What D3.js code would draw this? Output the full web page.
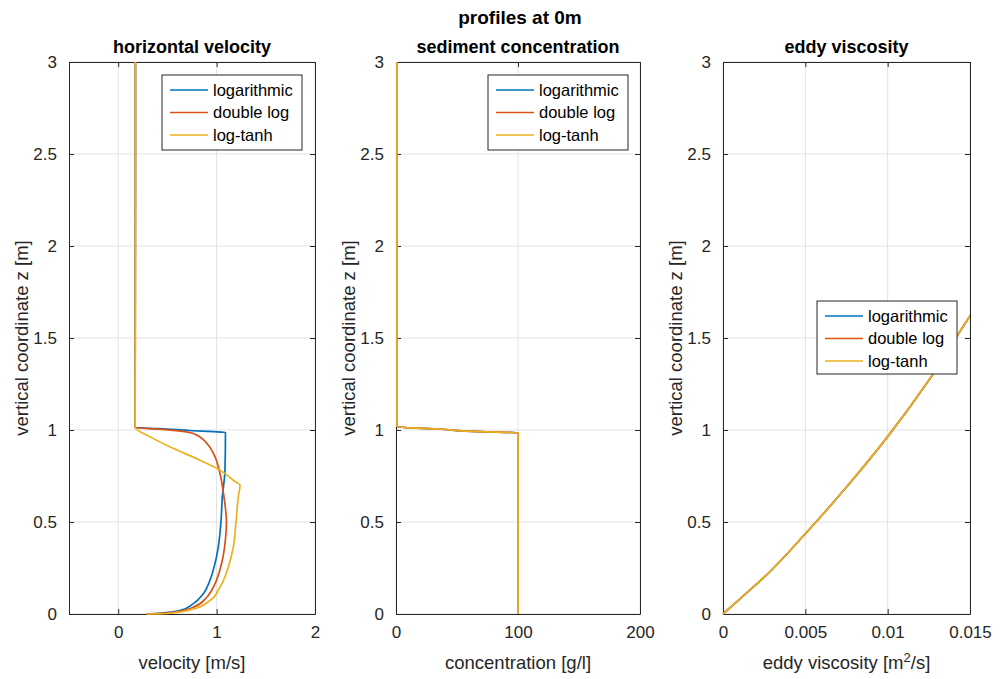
<!DOCTYPE html>
<html><head><meta charset="utf-8">
<script src="https://cdn.jsdelivr.net/npm/d3@7/dist/d3.min.js"></script>
<style>
body{margin:0;background:#fff;}
svg{display:block;font-family:"Liberation Sans",Arial,Helvetica,sans-serif;}
</style></head><body>
<svg id="chart" width="1000" height="679"></svg>
<script>
// ---------- data ----------
const seriesNames = ["logarithmic", "double log", "log-tanh"];
const seriesColors = ["#0072BD", "#D95319", "#EDB120"];

// horizontal velocity [m/s] vs z [m]
const velLogZ = [0, 0.004, 0.018, 0.055, 0.109, 0.18, 0.273, 0.364, 0.5, 0.636, 0.78, 0.987, 0.991, 0.996, 1.007, 1.013, 1.5, 2.0, 2.5, 3.0];
const velLogU = [0.286, 0.42, 0.626, 0.76, 0.864, 0.93, 0.983, 1.017, 1.044, 1.058, 1.085, 1.09, 0.966, 0.76, 0.42, 0.172, 0.173, 0.174, 0.175, 0.175];
const velDblZ = [0, 0.009, 0.036, 0.091, 0.164, 0.273, 0.418, 0.5, 0.636, 0.764, 0.855, 0.918, 0.95, 0.972, 0.987, 1.005, 1.013, 1.5, 2.0, 2.5, 3.0];
const velDblU = [0.30, 0.56, 0.76, 0.90, 0.983, 1.05, 1.092, 1.10, 1.075, 1.034, 0.983, 0.915, 0.86, 0.80, 0.72, 0.42, 0.172, 0.173, 0.174, 0.175, 0.175];
const velTanhZ = [0, 0.004, 0.027, 0.073, 0.145, 0.255, 0.364, 0.5, 0.636, 0.70, 0.727, 0.782, 0.836, 0.909, 0.964, 1.013, 1.5, 2.0, 2.5, 3.0];
const velTanhU = [0.286, 0.524, 0.762, 0.932, 1.034, 1.119, 1.17, 1.197, 1.221, 1.238, 1.17, 1.034, 0.83, 0.524, 0.32, 0.172, 0.173, 0.174, 0.175, 0.175];

// sediment concentration [g/l] vs z (same for all three)
const concZ = [0, 0.985, 0.991, 1.004, 1.018, 3.0];
const concC = [100, 100, 69, 36.5, 0.8, 0.8];

// eddy viscosity [m2/s] vs z (same for all three)
const eddyZ = [0, 0.08, 0.2, 0.436, 0.69, 0.964, 1.27, 1.62, 1.75];
const eddyNu = [0, 0.001, 0.0025, 0.005, 0.0075, 0.01, 0.0125, 0.015, 0.016];

// ticks
const zTicks = [0, 0.5, 1, 1.5, 2, 2.5, 3];
const zTickLabels = ["0", "0.5", "1", "1.5", "2", "2.5", "3"];
const velTicks = [0, 1, 2];
const concTicks = [0, 100, 200];
const eddyTicks = [0, 0.005, 0.01, 0.015];
const eddyTickLabels = ["0", "0.005", "0.01", "0.015"];

// ---------- layout ----------
const svg = d3.select("#chart");
const plotTop = 62, plotBottom = 614;
const frameColor = "#262626";
const gridColor = "#e3e3e3";
const tickFont = 17, labelFont = 18.5;

function zip(xs, zs){ return xs.map((x,i)=>({x:x, z:zs[i]})); }

const panels = [
  {left:69, right:315, domain:[-0.5,2], ticks:velTicks, tickLabels:velTicks.map(String),
   title:"horizontal velocity", xlabel:"velocity [m/s]",
   series:[zip(velLogU,velLogZ), zip(velDblU,velDblZ), zip(velTanhU,velTanhZ)],
   legend:{x:162, y:75, w:140, h:75}},
  {left:396, right:640, domain:[0,200], ticks:concTicks, tickLabels:concTicks.map(String),
   title:"sediment concentration", xlabel:"concentration [g/l]",
   series:[zip(concC,concZ), zip(concC,concZ), zip(concC,concZ)],
   legend:{x:488, y:75, w:140, h:75}},
  {left:723, right:970, domain:[0,0.015], ticks:eddyTicks, tickLabels:eddyTickLabels,
   title:"eddy viscosity", xlabel:null,
   series:[zip(eddyNu,eddyZ), zip(eddyNu,eddyZ), zip(eddyNu,eddyZ)],
   legend:{x:817, y:301, w:140, h:73}}
];

const y = d3.scaleLinear().domain([0,3]).range([plotBottom, plotTop]);

panels.forEach((p, pi) => {
  const x = d3.scaleLinear().domain(p.domain).range([p.left, p.right]);
  const g = svg.append("g");
  const clipId = "clip" + pi;
  svg.append("clipPath").attr("id", clipId).append("rect")
    .attr("x", p.left - 1).attr("y", plotTop - 1).attr("width", p.right - p.left + 1).attr("height", plotBottom - plotTop + 2);

  // grid
  g.append("g").selectAll("line").data(p.ticks).join("line")
    .attr("x1", d=>x(d)).attr("x2", d=>x(d)).attr("y1", plotTop).attr("y2", plotBottom)
    .attr("stroke", gridColor).attr("stroke-width", 1);
  g.append("g").selectAll("line").data(zTicks).join("line")
    .attr("x1", p.left).attr("x2", p.right).attr("y1", d=>y(d)).attr("y2", d=>y(d))
    .attr("stroke", gridColor).attr("stroke-width", 1);

  // axes (inside ticks, box on)
  const tickLen = 5;
  const axB = d3.axisBottom(x).tickValues(p.ticks).tickFormat((d,i)=>p.tickLabels[i]).tickSizeInner(-tickLen).tickSizeOuter(0).tickPadding(12);
  const axT = d3.axisTop(x).tickValues(p.ticks).tickFormat("").tickSizeInner(-tickLen).tickSizeOuter(0);
  const axL = d3.axisLeft(y).tickValues(zTicks).tickFormat((d,i)=>zTickLabels[i]).tickSizeInner(-tickLen).tickSizeOuter(0).tickPadding(12);
  const axR = d3.axisRight(y).tickValues(zTicks).tickFormat("").tickSizeInner(-tickLen).tickSizeOuter(0);

  function style(sel){
    sel.selectAll("path").attr("stroke", frameColor).attr("stroke-width", 1);
    sel.selectAll("line").attr("stroke", frameColor).attr("stroke-width", 1);
    sel.selectAll("text").attr("fill", frameColor).attr("font-size", tickFont)
      .attr("font-family", "Liberation Sans, Arial, sans-serif");
  }
  style(g.append("g").attr("transform", `translate(0,${plotBottom})`).call(axB));
  style(g.append("g").attr("transform", `translate(0,${plotTop})`).call(axT));
  style(g.append("g").attr("transform", `translate(${p.left},0)`).call(axL));
  style(g.append("g").attr("transform", `translate(${p.right},0)`).call(axR));

  // lines (drawn over frame, like the reference)
  const line = d3.line().curve(d3.curveMonotoneY).x(d=>x(d.x)).y(d=>y(d.z));
  const lg = g.append("g").attr("clip-path", `url(#${clipId})`);
  p.series.forEach((s, si) => {
    lg.append("path").datum(s).attr("d", line).attr("fill", "none")
      .attr("stroke", seriesColors[si]).attr("stroke-width", 1.7)
      .attr("stroke-linejoin", "round");
  });

  // title
  g.append("text").attr("x", (p.left + p.right)/2).attr("y", 53)
    .attr("text-anchor", "middle").attr("font-weight", "bold").attr("font-size", 18)
    .attr("fill", "#000").text(p.title);

  // x label
  const xl = g.append("text").attr("x", (p.left + p.right)/2).attr("y", 669)
    .attr("text-anchor", "middle").attr("font-size", labelFont).attr("fill", frameColor);
  if (p.xlabel) xl.text(p.xlabel);
  else {
    xl.append("tspan").text("eddy viscosity [m");
    xl.append("tspan").attr("dy", -7).attr("font-size", 13).text("2");
    xl.append("tspan").attr("dy", 7).text("/s]");
  }

  // y label
  g.append("text").attr("transform", `translate(${p.left - 41},${(plotTop+plotBottom)/2}) rotate(-90)`)
    .attr("text-anchor", "middle").attr("font-size", labelFont).attr("fill", frameColor)
    .text("vertical coordinate z [m]");

  // legend
  const L = p.legend;
  const leg = g.append("g").attr("transform", `translate(${L.x},${L.y})`);
  leg.append("rect").attr("width", L.w).attr("height", L.h).attr("fill", "#fff")
    .attr("stroke", frameColor).attr("stroke-width", 1);
  seriesNames.forEach((n, i) => {
    const ry = 15 + i * 22.5;
    leg.append("line").attr("x1", 8).attr("x2", 46).attr("y1", ry).attr("y2", ry)
      .attr("stroke", seriesColors[i]).attr("stroke-width", 1.7);
    leg.append("text").attr("x", 51).attr("y", ry).attr("dy", "0.35em")
      .attr("font-size", 16.5).attr("fill", "#000").text(n);
  });
});

// main title
svg.append("text").attr("x", 520).attr("y", 24).attr("text-anchor", "middle")
  .attr("font-weight", "bold").attr("font-size", 19).attr("fill", "#000").text("profiles at 0m");
</script>
</body></html>
